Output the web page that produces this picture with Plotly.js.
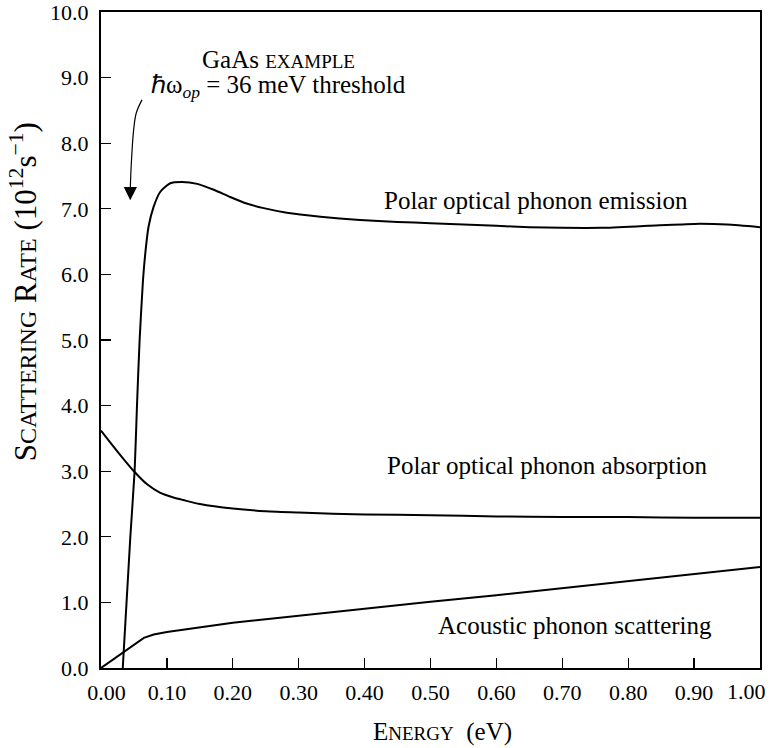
<!DOCTYPE html>
<html>
<head>
<meta charset="utf-8">
<script src="https://cdn.plot.ly/plotly-3.0.1.min.js"></script>
<style>html,body{margin:0;padding:0;background:#fff;}</style>
</head>
<body>
<div id="chart" style="width:770px;height:748px;"></div>
<script>
// Energy (eV) and scattering rate (10^12 s^-1)
const emissionX = [0.033, 0.0445, 0.051, 0.0546, 0.0586, 0.0637, 0.0672, 0.0722, 0.0798, 0.090, 0.105, 0.123, 0.146, 0.171, 0.196, 0.221, 0.247, 0.282, 0.333, 0.393, 0.450, 0.500, 0.600, 0.650, 0.700, 0.760, 0.830, 0.900, 0.950, 1.000];
const emissionY = [0.0, 2.0, 3.0, 4.0, 5.0, 5.91, 6.32, 6.73, 7.03, 7.26, 7.39, 7.41, 7.38, 7.29, 7.18, 7.08, 7.01, 6.94, 6.88, 6.83, 6.80, 6.78, 6.74, 6.72, 6.71, 6.71, 6.74, 6.77, 6.76, 6.72];

const absorptionX = [0, 0.025, 0.05, 0.07, 0.09, 0.11, 0.125, 0.15, 0.2, 0.25, 0.3, 0.4, 0.5, 0.6, 0.7, 0.8, 0.9, 1.0];
const absorptionY = [3.62, 3.3, 3.0, 2.8, 2.67, 2.6, 2.56, 2.5, 2.43, 2.39, 2.37, 2.34, 2.33, 2.31, 2.30, 2.30, 2.29, 2.29];

const acousticX = [0, 0.065, 0.08, 0.1, 0.2, 0.3, 0.4, 0.5, 0.6, 0.7, 0.8, 0.9, 1.0];
const acousticY = [0, 0.46, 0.51, 0.55, 0.69, 0.80, 0.91, 1.01, 1.11, 1.22, 1.33, 1.44, 1.54];

// curved pointer from the threshold note to the emission onset
const arrowX = [0.0622, 0.0535, 0.0495, 0.0460, 0.0449, 0.0445];
const arrowY = [8.66, 8.46, 8.20, 7.69, 7.44, 7.30];
const arrowTip = [0.0444, 7.13];

const xTickVals = [0, 0.1, 0.2, 0.3, 0.4, 0.5, 0.6, 0.7, 0.8, 0.9, 1.0];
const yTickVals = [0, 1, 2, 3, 4, 5, 6, 7, 8, 9, 10];

const SERIF = 'Liberation Serif, Times New Roman, Times, serif';
const NB = '\u00a0';
const sc = (s, px) => '<span style="font-size:' + px + 'px">' + s + '</span>';

const xLabels = xTickVals.map(v => v.toFixed(2));
const lastX = xTickVals.length - 1;
// first label nudged right, last label drawn flush inside the frame (as in the print)
const xTickText = xLabels.map((t, i) => i === 0 ? NB + NB + t : (i === lastX ? '' : t));
const yTickText = yTickVals.map(v => v.toFixed(1));

const traces = [
  {x: emissionX, y: emissionY, mode: 'lines', line: {color: '#000', width: 2, shape: 'spline', smoothing: 0.6}, hoverinfo: 'skip', name: 'Polar optical phonon emission'},
  {x: absorptionX, y: absorptionY, mode: 'lines', line: {color: '#000', width: 2, shape: 'spline', smoothing: 0.7}, hoverinfo: 'skip', name: 'Polar optical phonon absorption'},
  {x: acousticX, y: acousticY, mode: 'lines', line: {color: '#000', width: 2}, hoverinfo: 'skip', name: 'Acoustic phonon scattering'},
  {x: arrowX, y: arrowY, mode: 'lines', line: {color: '#000', width: 1.2, shape: 'spline'}, hoverinfo: 'skip', name: 'pointer'}
];

const txt = (text, x, y, extra) => Object.assign({
  text: text, x: x, y: y, xref: 'x', yref: 'y', showarrow: false,
  xanchor: 'center', yanchor: 'middle', font: {family: SERIF, size: 25, color: '#000'}
}, extra || {});

const layout = {
  width: 770, height: 748,
  margin: {l: 101, r: 10, t: 12, b: 80, pad: 0},
  paper_bgcolor: '#fff', plot_bgcolor: '#fff',
  showlegend: false,
  font: {family: SERIF, color: '#000'},
  xaxis: {
    range: [0, 1.0], tickmode: 'array', tickvals: xTickVals, ticktext: xTickText,
    ticks: 'inside', ticklen: 10, tickwidth: 1.2, tickcolor: '#000',
    showline: true, linewidth: 2, linecolor: '#000', mirror: true,
    showgrid: false, zeroline: false,
    tickfont: {family: SERIF, size: 22, color: '#000'},
    ticklabelstandoff: 4
  },
  yaxis: {
    range: [0, 10], tickmode: 'array', tickvals: yTickVals, ticktext: yTickText,
    ticks: 'inside', ticklen: 10, tickwidth: 1.2, tickcolor: '#000',
    showline: true, linewidth: 2, linecolor: '#000', mirror: true,
    showgrid: false, zeroline: false, ticklabeloverflow: 'allow',
    tickfont: {family: SERIF, size: 22, color: '#000'},
    ticklabelstandoff: 6
  },
  annotations: [
    txt('Polar optical phonon emission', 0.660, 7.13),
    txt('Polar optical phonon absorption', 0.677, 3.09),
    txt('Acoustic phonon scattering', 0.720, 0.65),
    txt('GaAs ' + sc('EXAMPLE', 19), 0.269, 9.27),
    txt('ℏω<sub><i>op</i></sub> = 36 meV threshold', 0.269, 8.87),
    {x: arrowTip[0], y: arrowTip[1], xref: 'x', yref: 'y', axref: 'x', ayref: 'y',
     ax: arrowX[arrowX.length - 1], ay: arrowY[arrowY.length - 1],
     text: '', showarrow: true, arrowhead: 2, arrowsize: 2.2, arrowwidth: 1.2, arrowcolor: '#000'},
    {text: xLabels[lastX], x: xTickVals[lastX], xref: 'x', y: 0, yref: 'paper',
     xanchor: 'right', yanchor: 'top', xshift: 8, yshift: -9, showarrow: false,
     font: {family: SERIF, size: 22, color: '#000'}},
    {text: 'E' + sc('NERGY', 19) + NB + NB + '(eV)', xref: 'paper', yref: 'paper', x: 0.518, y: -0.098,
     xanchor: 'center', yanchor: 'middle', showarrow: false, font: {family: SERIF, size: 25, color: '#000'}},
    {text: 'S' + sc('CATTERING', 24) + ' R' + sc('ATE', 24) + ' (10<sup>12</sup>s<sup>−1</sup>)', xref: 'paper', yref: 'paper',
     x: -0.117, y: 0.574, textangle: -90, xanchor: 'center', yanchor: 'middle', showarrow: false,
     font: {family: SERIF, size: 31, color: '#000'}}
  ]
};

Plotly.newPlot('chart', traces, layout, {staticPlot: true, displayModeBar: false});
</script>
</body>
</html>
